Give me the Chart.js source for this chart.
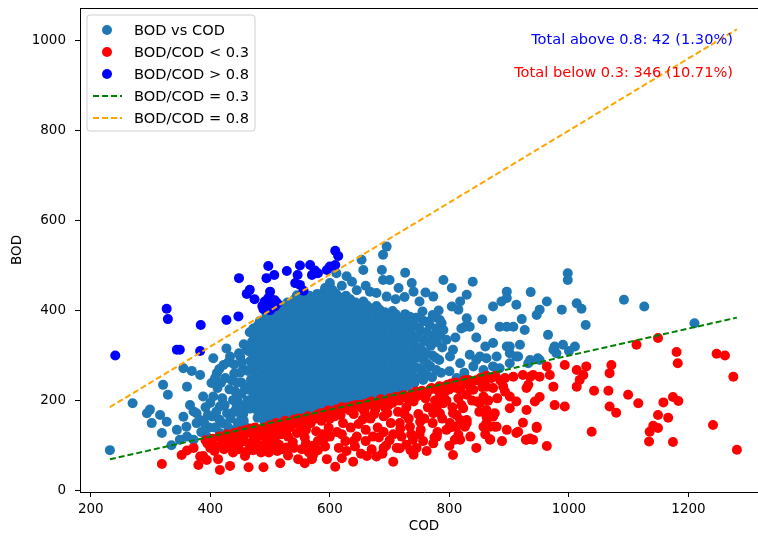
<!DOCTYPE html>
<html>
<head>
<meta charset="utf-8">
<script src="https://cdn.jsdelivr.net/npm/chart.js@4.4.0/dist/chart.umd.min.js"></script>
<style>
  html, body { margin: 0; padding: 0; background: #fff; overflow: hidden; }
  #wrap { width: 758px; height: 537px; overflow: hidden; }
</style>
</head>
<body>
<div id="wrap"><canvas id="bodChart" width="780" height="537"></canvas></div>
<script>
// 数据：[COD, BOD]
const seriesLabels = ['BOD vs COD', 'BOD/COD < 0.3', 'BOD/COD > 0.8', 'BOD/COD = 0.3', 'BOD/COD = 0.8'];
const xTickValues = [200, 400, 600, 800, 1000, 1200];
const yTickValues = [0, 200, 400, 600, 800, 1000];
const notes = ['Total above 0.8: 42 (1.30%)', 'Total below 0.3: 346 (10.71%)'];

// ratio lines (end points)
const lineCOD = [232, 1281];
const lowLineBOD = [69.6, 384.3];
const highLineBOD = [185.6, 1024.8];

const highPoints = [
  [241,300],[327,404],[329,381],[344,313],[349,313],[383,310],[384,368],[427,379],[447,387],
  [448,472],[461,437],[466,446],[489,403],[491,420],[494,472],[497,499],[500,442],[503,424],
  [500,405],[507,479],[497,428],[508,423],[500,401],[508,409],[528,488],[550,500],[546,479],
  [542,461],[550,457],[556,444],[567,501],[575,489],[580,483],[570,479],[600,498],[609,501],
  [609,533],[614,521],[595,490],[487,410],[512,416],[474,425]
];

const lowPoints = [
  [319,59],[352,79],[361,89],[380,57],[388,77],[383,76],[394,68],[372,95],[395,105],
  [416,46],[413,70],[433,55],[464,52],[489,52],[458,77],[472,90],[486,94],[517,61],
  [547,70],[558,61],[572,79],[595,70],[609,53],[639,64],[662,77],[678,76],[706,64],[806,79],
  [1113,324],[1149,339],[1180,308],[1182,283],[1247,304],[1261,300],[1275,253],[1281,91],
  [1241,146],[1174,208],[1183,199],[1158,196],[1149,168],[1166,162],[1141,144],[1149,139],
  [1135,131],[1134,109],[1174,108],[1116,194],[1099,213],[1068,187],[1079,173],[1066,222],
  [1071,279],[1068,261],[1038,131],[1042,222],[1029,276],[1024,257],[1018,246],[1013,231],
  [1013,268],[993,279],[976,190],[993,187],[963,99],[974,231],[929,179],[946,139],[935,116],
  [928,113],[923,151],[915,131],[896,135],[868,114],[951,208],[943,198],[929,228],[935,253],
  [951,253],[968,257],[963,276],[901,209],[912,198],[893,220],[901,183],[873,228],
  [890,231],[893,250],[907,253],[923,257],[932,235],[940,257],[862,255],[876,172],[862,164],
  [876,142],[862,150],[846,198],[857,202],[834,231],[829,213],[840,224],[826,239],[818,224],
  [823,183],[812,168],[829,157],[806,142],[795,135],[815,124],[809,113],[826,142],[790,231],
  [790,194],[784,172],[868,142],
  [773,105],[779,120],[739,113],[728,102],[717,94],[751,153],[734,142],[717,150],[784,209],
  [779,187],[773,172],[806,172],[818,157],[801,150],[812,142],[829,150],[818,113],[868,113],
  [862,179],[873,164],[879,142],[857,142],[851,194],[862,231],[857,209],[912,128],[929,113],
  [940,113],[946,142],
  [392,112],[398,104],[404,115],[410,98],[415,120],[420,108],[407,88],[400,95],[425,118],[423,92],
  [428,125],[435,110],[440,128],[445,100],[450,132],[455,115],[460,135],[465,105],[470,125],
  [438,85],[448,92],[462,88],[430,100],[468,138],[442,115],[456,125],[475,140],[478,118],
  [482,100],[486,130],
  [490,140],[495,115],[500,145],[505,128],[510,150],[515,102],[520,138],[525,155],[530,120],
  [535,145],[540,158],[498,85],[512,88],[528,96],[538,108],[492,105],[518,125],[532,140],
  [545,128],[508,112],
  [548,160],[552,142],[558,118],[563,165],[568,150],[572,100],[577,132],[582,170],[586,155],
  [590,115],[595,175],[598,140],[553,92],[565,85],[580,90],[592,98],[560,135],[575,160],
  [588,125],[600,160],[603,176],
  [608,165],[612,130],[617,178],[622,150],[626,110],[630,185],[635,140],[640,170],[645,120],
  [650,190],[655,158],[660,135],[615,95],[628,88],[642,98],[652,82],[620,185],[638,188],
  [648,148],[658,175],
  [665,195],[668,160],[672,120],[676,180],[680,140],[685,203],[690,165],[694,100],[698,190],
  [702,150],[706,125],[710,208],[714,175],[718,138],[670,92],[688,82],[700,112],[712,95],
  [682,118],[696,172],
  [724,212],[728,185],[732,160],[736,125],[740,198],[744,220],[748,170],[752,135],[756,110],
  [760,205],[764,185],[768,225],[772,150],[776,200],[780,130],[785,215],[788,160],[745,95],
  [762,88],[740,80],[725,170],[758,160],
  [795,200],[800,225],[805,185],[810,240],[815,205],[820,190],[838,200],[845,245],[850,175],
  [855,230],[860,125],[865,200],[870,250],[800,100],[835,120],[845,95],[880,205],[885,245],
  [888,110],
  [432,118],[444,122],[452,108],[466,130],[474,112],[480,135],[488,122],[496,138],[502,132],
  [507,140],[514,145],[522,148],[527,130],[533,152],[543,150],[550,152],[556,160],[562,145],
  [570,162],[578,168],[585,172],[593,165],[597,178],[605,170],[611,180],[618,168],[624,183],
  [633,178],[637,186],[644,190],[652,185],[657,192],[663,190],[670,198],[674,170],[683,195],
  [688,200],[692,185],[700,205],[705,195],[716,200],[720,210],[730,205],[738,215],[746,210],
  [754,222],[762,215],[770,228],[778,225],[783,232],[792,218],[797,235],[803,238],[812,228],
  [825,245],[832,246],[852,250],[858,240],[877,255],[450,110],[470,98],[485,85],[500,100],
  [520,92],[540,95],[560,105],[580,110],[600,120],[620,125],[640,110],[660,110],[690,130],
  [720,120],[750,125],[775,118],[800,140],[530,78],[570,70],[620,72],[690,95],[735,90]
];

const normalPoints = [
  // left tail
  [232,90],[270,194],[294,172],[299,180],[302,150],[316,168],[327,153],[319,128],[335,101],
  [321,235],[329,213],[344,135],[349,113],[355,164],[360,142],[361,120],[372,176],[372,113],
  [377,150],[361,231],[355,272],[369,266],[383,257],[383,157],[388,209],[394,120],[377,172],
  [366,190],[392,185],[398,140],[403,165],[405,294],[411,261],[402,239],[422,279],[427,316],
  [433,298],[405,209],[416,187],[416,128],[438,201],[438,134],[412,228],[425,250],[420,150],
  [428,172],[432,225],[440,260],[444,185],[446,150],[445,240],[420,205],[450,298],[461,313],
  [455,270],[452,215],[455,170],[460,140],[452,240],[450,262],[453,285],[448,305],[456,325],
  [445,200],[458,190],[452,165],
  [385,130],[390,150],[396,168],[400,195],[408,140],[410,175],[415,158],[418,240],[424,190],
  [430,140],[434,160],[436,245],[440,175],[442,220],[448,140],[450,185],[456,155],[458,230],
  [462,200],[408,250],[415,270],[430,285],[440,280],
  // main cloud
  [466,182],[469,203],[464,224],[468,246],[463,266],[467,288],[465,309],[470,331],[466,352],
  [479,162],[476,181],[480,199],[477,219],[481,236],[478,256],[475,274],[480,293],[477,312],
  [482,330],[476,348],[480,368],
  [491,152],[489,171],[493,190],[488,209],[492,227],[490,246],[494,263],[489,282],[491,300],
  [495,318],[488,336],[492,355],[490,373],[494,390],
  [502,158],[505,176],[501,195],[504,213],[506,232],[502,250],[505,268],[500,287],[504,305],
  [507,322],[501,341],[505,359],[503,377],[506,396],
  [516,160],[513,182],[517,200],[514,219],[518,238],[515,256],[512,274],[517,292],[514,311],
  [519,329],[513,347],[516,366],[518,384],[515,402],
  [527,166],[530,186],[526,204],[529,222],[531,240],[527,259],[530,277],[525,295],[529,314],
  [532,332],[526,350],[530,369],[528,387],[531,404],[529,418],
  [541,172],[538,190],[542,209],[539,227],[543,245],[540,263],[537,282],[541,300],[544,318],
  [538,337],[542,355],[540,373],[543,391],[539,409],[541,425],
  [553,174],[550,193],[554,211],[551,229],[555,248],[552,266],[549,285],[553,303],[556,321],
  [550,339],[554,358],[552,376],[555,394],[551,412],[553,430],
  [566,177],[563,196],[567,214],[564,233],[568,251],[565,269],[562,287],[566,306],[569,324],
  [563,342],[567,360],[565,378],[568,397],[564,415],[566,433],
  [579,182],[576,200],[580,219],[577,237],[581,255],[578,273],[575,292],[579,310],[582,328],
  [576,346],[580,364],[578,382],[581,401],[577,419],[579,437],
  [591,186],[588,205],[592,223],[589,241],[593,259],[590,278],[587,296],[591,314],[594,332],
  [588,351],[592,369],[590,387],[593,405],[589,424],[591,442],
  [604,190],[601,208],[605,227],[602,245],[606,263],[603,281],[600,300],[604,318],[607,336],
  [601,354],[605,373],[603,391],[606,409],[602,427],[604,446],
  [616,193],[613,212],[617,230],[614,248],[618,266],[615,285],[612,303],[616,321],[619,340],
  [613,358],[617,376],[615,394],[618,413],[614,431],
  [629,197],[626,215],[630,233],[627,252],[631,270],[628,288],[625,306],[629,325],[632,343],
  [626,361],[630,379],[628,398],[631,416],[627,433],
  [641,200],[638,218],[642,237],[639,255],[643,273],[640,291],[637,310],[641,328],[644,346],
  [638,364],[642,383],[640,401],[643,418],
  [654,203],[651,221],[655,239],[652,258],[656,276],[653,294],[650,312],[654,331],[657,349],
  [651,367],[655,385],[653,403],[656,420],
  [666,207],[663,225],[667,243],[664,262],[668,280],[665,298],[662,316],[666,334],[669,353],
  [663,371],[667,389],[665,407],
  [679,210],[676,228],[680,247],[677,265],[681,283],[678,301],[675,320],[679,338],[682,356],
  [676,374],[680,392],[678,410],
  [691,214],[688,232],[692,250],[689,269],[693,287],[690,305],[687,323],[691,341],[694,360],
  [688,378],[692,396],
  [704,218],[701,236],[705,254],[702,272],[706,291],[703,309],[700,327],[704,345],[707,363],
  [701,381],[705,399],
  [716,223],[713,241],[717,259],[714,277],[718,295],[715,313],[712,332],[716,350],[719,368],
  [713,386],
  [729,231],[726,249],[730,267],[727,285],[731,303],[728,322],[725,340],[729,358],[732,376],
  [726,392],
  [741,238],[738,257],[742,275],[739,293],[743,311],[740,329],[737,347],[741,366],[744,384],
  [756,246],[753,268],[757,290],[754,312],[758,333],[752,355],[757,377],[755,398],
  [771,252],[768,276],[772,300],[769,322],[773,345],[767,368],[772,390],
  [786,262],[783,290],[788,318],[784,345],[787,372],[782,400],
  // main cloud, in-between points
  [472,192],[473,213],[471,235],[474,256],[470,277],[473,298],[471,320],[474,341],[472,360],
  [484,170],[485,190],[483,210],[486,228],[484,246],[482,265],[485,284],[483,303],[486,321],
  [484,340],[485,358],[483,377],
  [497,162],[496,181],[498,200],[497,219],[499,237],[496,255],[498,273],[497,292],[499,310],
  [496,329],[498,347],[497,366],[499,384],[497,400],
  [509,167],[510,186],[508,204],[511,223],[509,241],[510,259],[508,278],[511,296],[509,314],
  [510,332],[508,350],[511,368],[509,388],[510,405],
  [521,172],[522,191],[520,209],[523,228],[521,247],[522,265],[520,283],[523,302],[521,320],
  [522,338],[520,357],[523,375],[521,393],[522,410],
  [534,176],[535,195],[533,213],[536,231],[534,250],[535,268],[533,286],[536,305],[534,323],
  [535,341],[533,360],[536,378],[534,396],[535,414],
  [546,180],[547,199],[545,217],[548,236],[546,254],[547,272],[545,291],[548,309],[546,327],
  [547,346],[545,364],[548,382],[546,400],[547,418],[545,434],
  [559,183],[560,202],[558,220],[561,239],[559,257],[560,275],[558,294],[561,312],[559,330],
  [560,349],[558,367],[561,385],[559,403],[560,421],
  [572,187],[573,206],[571,224],[574,243],[572,261],[573,279],[571,298],[574,316],[572,334],
  [573,353],[571,371],[574,389],[572,408],[573,426],
  [584,191],[585,210],[583,228],[586,247],[584,265],[585,283],[583,302],[586,320],[584,338],
  [585,357],[583,375],[586,393],[584,412],[585,430],
  [597,195],[598,214],[596,232],[599,251],[597,269],[598,287],[596,306],[599,324],[597,342],
  [598,361],[596,379],[599,397],[597,416],[598,434],
  [609,199],[610,218],[608,236],[611,255],[609,273],[610,291],[608,310],[611,328],[609,346],
  [610,365],[608,383],[611,401],[609,420],[610,438],
  [622,203],[623,222],[621,240],[624,258],[622,277],[623,295],[621,313],[624,332],[622,350],
  [623,368],[621,387],[624,405],[622,423],
  [634,206],[635,225],[633,243],[636,262],[634,280],[635,298],[633,317],[636,335],[634,353],
  [635,372],[633,390],[636,408],[634,425],
  [647,209],[648,228],[646,246],[649,265],[647,283],[648,301],[646,320],[649,338],[647,356],
  [648,375],[646,393],[649,410],
  [659,213],[660,232],[658,250],[661,268],[659,287],[660,305],[658,323],[661,342],[659,360],
  [660,378],[658,396],[661,412],
  [672,216],[673,235],[671,253],[674,272],[672,290],[673,308],[671,327],[674,345],[672,363],
  [673,382],[671,400],
  [684,220],[685,239],[683,257],[686,276],[684,294],[685,312],[683,330],[686,349],[684,367],
  [685,385],[683,402],
  [697,224],[698,243],[696,261],[699,280],[697,298],[698,316],[696,334],[699,353],[697,371],
  [698,389],
  [709,228],[710,247],[708,265],[711,284],[709,302],[710,320],[708,339],[711,357],[709,375],
  [710,392],
  [722,234],[723,253],[721,271],[724,290],[722,308],[723,326],[721,345],[724,363],[722,381],
  [734,241],[735,260],[733,278],[736,297],[734,315],[735,333],[733,352],[736,370],[734,386],
  [748,250],[749,272],[747,295],[750,318],[748,340],[749,362],[747,384],
  [762,258],[763,282],[761,305],[764,330],[762,352],[763,375],
  [778,268],[777,295],[779,330],[778,360],[776,385],
  // upper scatter
  [695,542],[689,524],[653,513],[656,490],[687,490],[689,468],[700,468],[667,442],[678,439],
  [695,431],[726,484],[737,461],[740,442],[773,431],[628,476],[637,464],[611,483],[600,461],
  [592,450],[606,442],[583,431],[660,455],[645,445],[620,455],[715,450],[710,425],[750,420],
  [760,440],[725,430],
  // right scatter
  [790,468],[804,450],[839,464],[829,435],[818,420],[804,409],[815,402],[873,409],[887,420],
  [896,442],[896,428],[912,413],[936,441],[963,420],[951,402],[946,390],[988,402],[998,483],
  [998,468],[1013,416],[1021,404],[1028,368],[1092,424],[1126,409],[1210,372],[921,381],
  [926,357],[884,364],[896,364],[907,364],[873,328],[901,320],[918,324],[829,383],[826,364],
  [834,364],[965,346],[974,313],[990,324],[948,294],[935,290],[912,298],[901,305],[896,320],
  [879,298],[862,294],[851,298],[784,379],[790,357],[795,335],[806,313],[801,298],[818,283],
  [834,302],[840,276],[857,268],[873,276],[884,272],[901,283],[915,298],[932,283],[951,290],
  [979,305],[976,320],[1000,310],[1010,320],[800,265],[812,250],[825,262],[845,290],[860,320],
  [810,340],[820,360],[845,340],[855,380]
];

const toXY = pts => pts.map(p => ({ x: p[0], y: p[1] }));
const lineXY = (xs, ys) => xs.map((x, i) => ({ x: x, y: ys[i] }));

const FONT = '"DejaVu Sans", sans-serif';
const TEXT_SIZE = 14.6;
const TICK_SIZE = 13.5;

// 图框上边 + 图例 + 注释
const overlayPlugin = {
  id: 'overlay',
  afterDatasetsDraw(chart) {
    const ctx = chart.ctx;
    const area = chart.chartArea;
    ctx.save();
    ctx.strokeStyle = '#000';
    ctx.lineWidth = 1;
    ctx.beginPath();
    ctx.moveTo(area.left, area.top + 0.5);
    ctx.lineTo(area.right, area.top + 0.5);
    ctx.stroke();

    // notes
    ctx.font = TEXT_SIZE + 'px ' + FONT;
    ctx.textAlign = 'right';
    ctx.textBaseline = 'middle';
    ctx.fillStyle = '#0000ff';
    ctx.fillText(notes[0], 733, 40);
    ctx.fillStyle = '#ff0000';
    ctx.fillText(notes[1], 733, 73);

    // legend
    const bx = 87, by = 15, bw = 168, bh = 116, r = 3;
    ctx.beginPath();
    ctx.moveTo(bx + r, by);
    ctx.arcTo(bx + bw, by, bx + bw, by + bh, r);
    ctx.arcTo(bx + bw, by + bh, bx, by + bh, r);
    ctx.arcTo(bx, by + bh, bx, by, r);
    ctx.arcTo(bx, by, bx + bw, by, r);
    ctx.closePath();
    ctx.fillStyle = 'rgba(255,255,255,0.8)';
    ctx.fill();
    ctx.strokeStyle = '#d0d0d0';
    ctx.stroke();

    ctx.textAlign = 'left';
    chart.data.datasets.forEach((ds, i) => {
      const y = 30 + i * 22;
      if (ds.type === 'line') {
        ctx.strokeStyle = ds.borderColor;
        ctx.lineWidth = ds.borderWidth;
        ctx.setLineDash(ds.borderDash);
        ctx.beginPath();
        ctx.moveTo(93, y);
        ctx.lineTo(122, y);
        ctx.stroke();
        ctx.setLineDash([]);
      } else {
        ctx.fillStyle = ds.backgroundColor;
        ctx.beginPath();
        ctx.arc(107, y, 5, 0, Math.PI * 2);
        ctx.fill();
      }
      ctx.fillStyle = '#000';
      ctx.fillText(ds.label, 134, y + 1);
    });
    ctx.restore();
  }
};

function pointSet(label, pts, color, order) {
  return {
    label: label, data: toXY(pts),
    backgroundColor: color, borderColor: color, borderWidth: 0,
    pointBackgroundColor: color, pointBorderColor: color, pointBorderWidth: 0,
    pointRadius: 5, pointHoverRadius: 5, order: order
  };
}

// 固定绘图区：不让刻度标签撑开边距
function noEdgePadding(s) {
  s.paddingTop = 0;
  s.paddingBottom = 0;
  s.paddingLeft = 0;
  s.paddingRight = 0;
}

let chart;
document.addEventListener('DOMContentLoaded', () => {
  const ctx = document.getElementById('bodChart').getContext('2d');
  chart = new Chart(ctx, {
    type: 'scatter',
    data: {
      datasets: [
        pointSet(seriesLabels[0], normalPoints, '#1f77b4', 5),
        pointSet(seriesLabels[1], lowPoints, '#ff0000', 4),
        pointSet(seriesLabels[2], highPoints, '#0000ff', 3),
        { type: 'line', label: seriesLabels[3], data: lineXY(lineCOD, lowLineBOD), borderColor: '#008000', borderWidth: 2, borderDash: [6, 3], pointRadius: 0, fill: false, order: 2 },
        { type: 'line', label: seriesLabels[4], data: lineXY(lineCOD, highLineBOD), borderColor: '#ffa500', borderWidth: 2, borderDash: [6, 3], pointRadius: 0, fill: false, order: 1 }
      ]
    },
    options: {
      responsive: false,
      animation: false,
      devicePixelRatio: 1,
      layout: { padding: { top: 8, right: 12, left: 0, bottom: 0 } },
      plugins: { legend: { display: false }, tooltip: { enabled: false } },
      scales: {
        x: {
          type: 'linear', min: 182, max: 1333,
          afterBuildTicks: s => { s.ticks = xTickValues.map(v => ({ value: v })); },
          afterFit: s => { s.height = 45; noEdgePadding(s); },
          grid: { drawOnChartArea: false, drawTicks: true, tickLength: 5, color: '#000' },
          border: { display: true, color: '#000', width: 1 },
          ticks: { color: '#000', font: { family: FONT, size: TICK_SIZE }, padding: 4, maxRotation: 0, callback: v => String(v) },
          title: { display: true, text: 'COD', color: '#000', font: { family: FONT, size: TICK_SIZE }, padding: { top: 0, bottom: 2 } }
        },
        y: {
          type: 'linear', min: -3, max: 1072,
          afterBuildTicks: s => { s.ticks = yTickValues.map(v => ({ value: v })); },
          afterFit: s => { s.width = 80; noEdgePadding(s); },
          grid: { drawOnChartArea: false, drawTicks: true, tickLength: 5, color: '#000' },
          border: { display: true, color: '#000', width: 1 },
          ticks: { color: '#000', font: { family: FONT, size: TICK_SIZE }, padding: 9, callback: v => String(v) },
          title: { display: true, text: 'BOD', color: '#000', font: { family: FONT, size: TICK_SIZE }, padding: { top: 9, bottom: 0 } }
        }
      }
    },
    plugins: [overlayPlugin]
  });
});
</script>
</body>
</html>
